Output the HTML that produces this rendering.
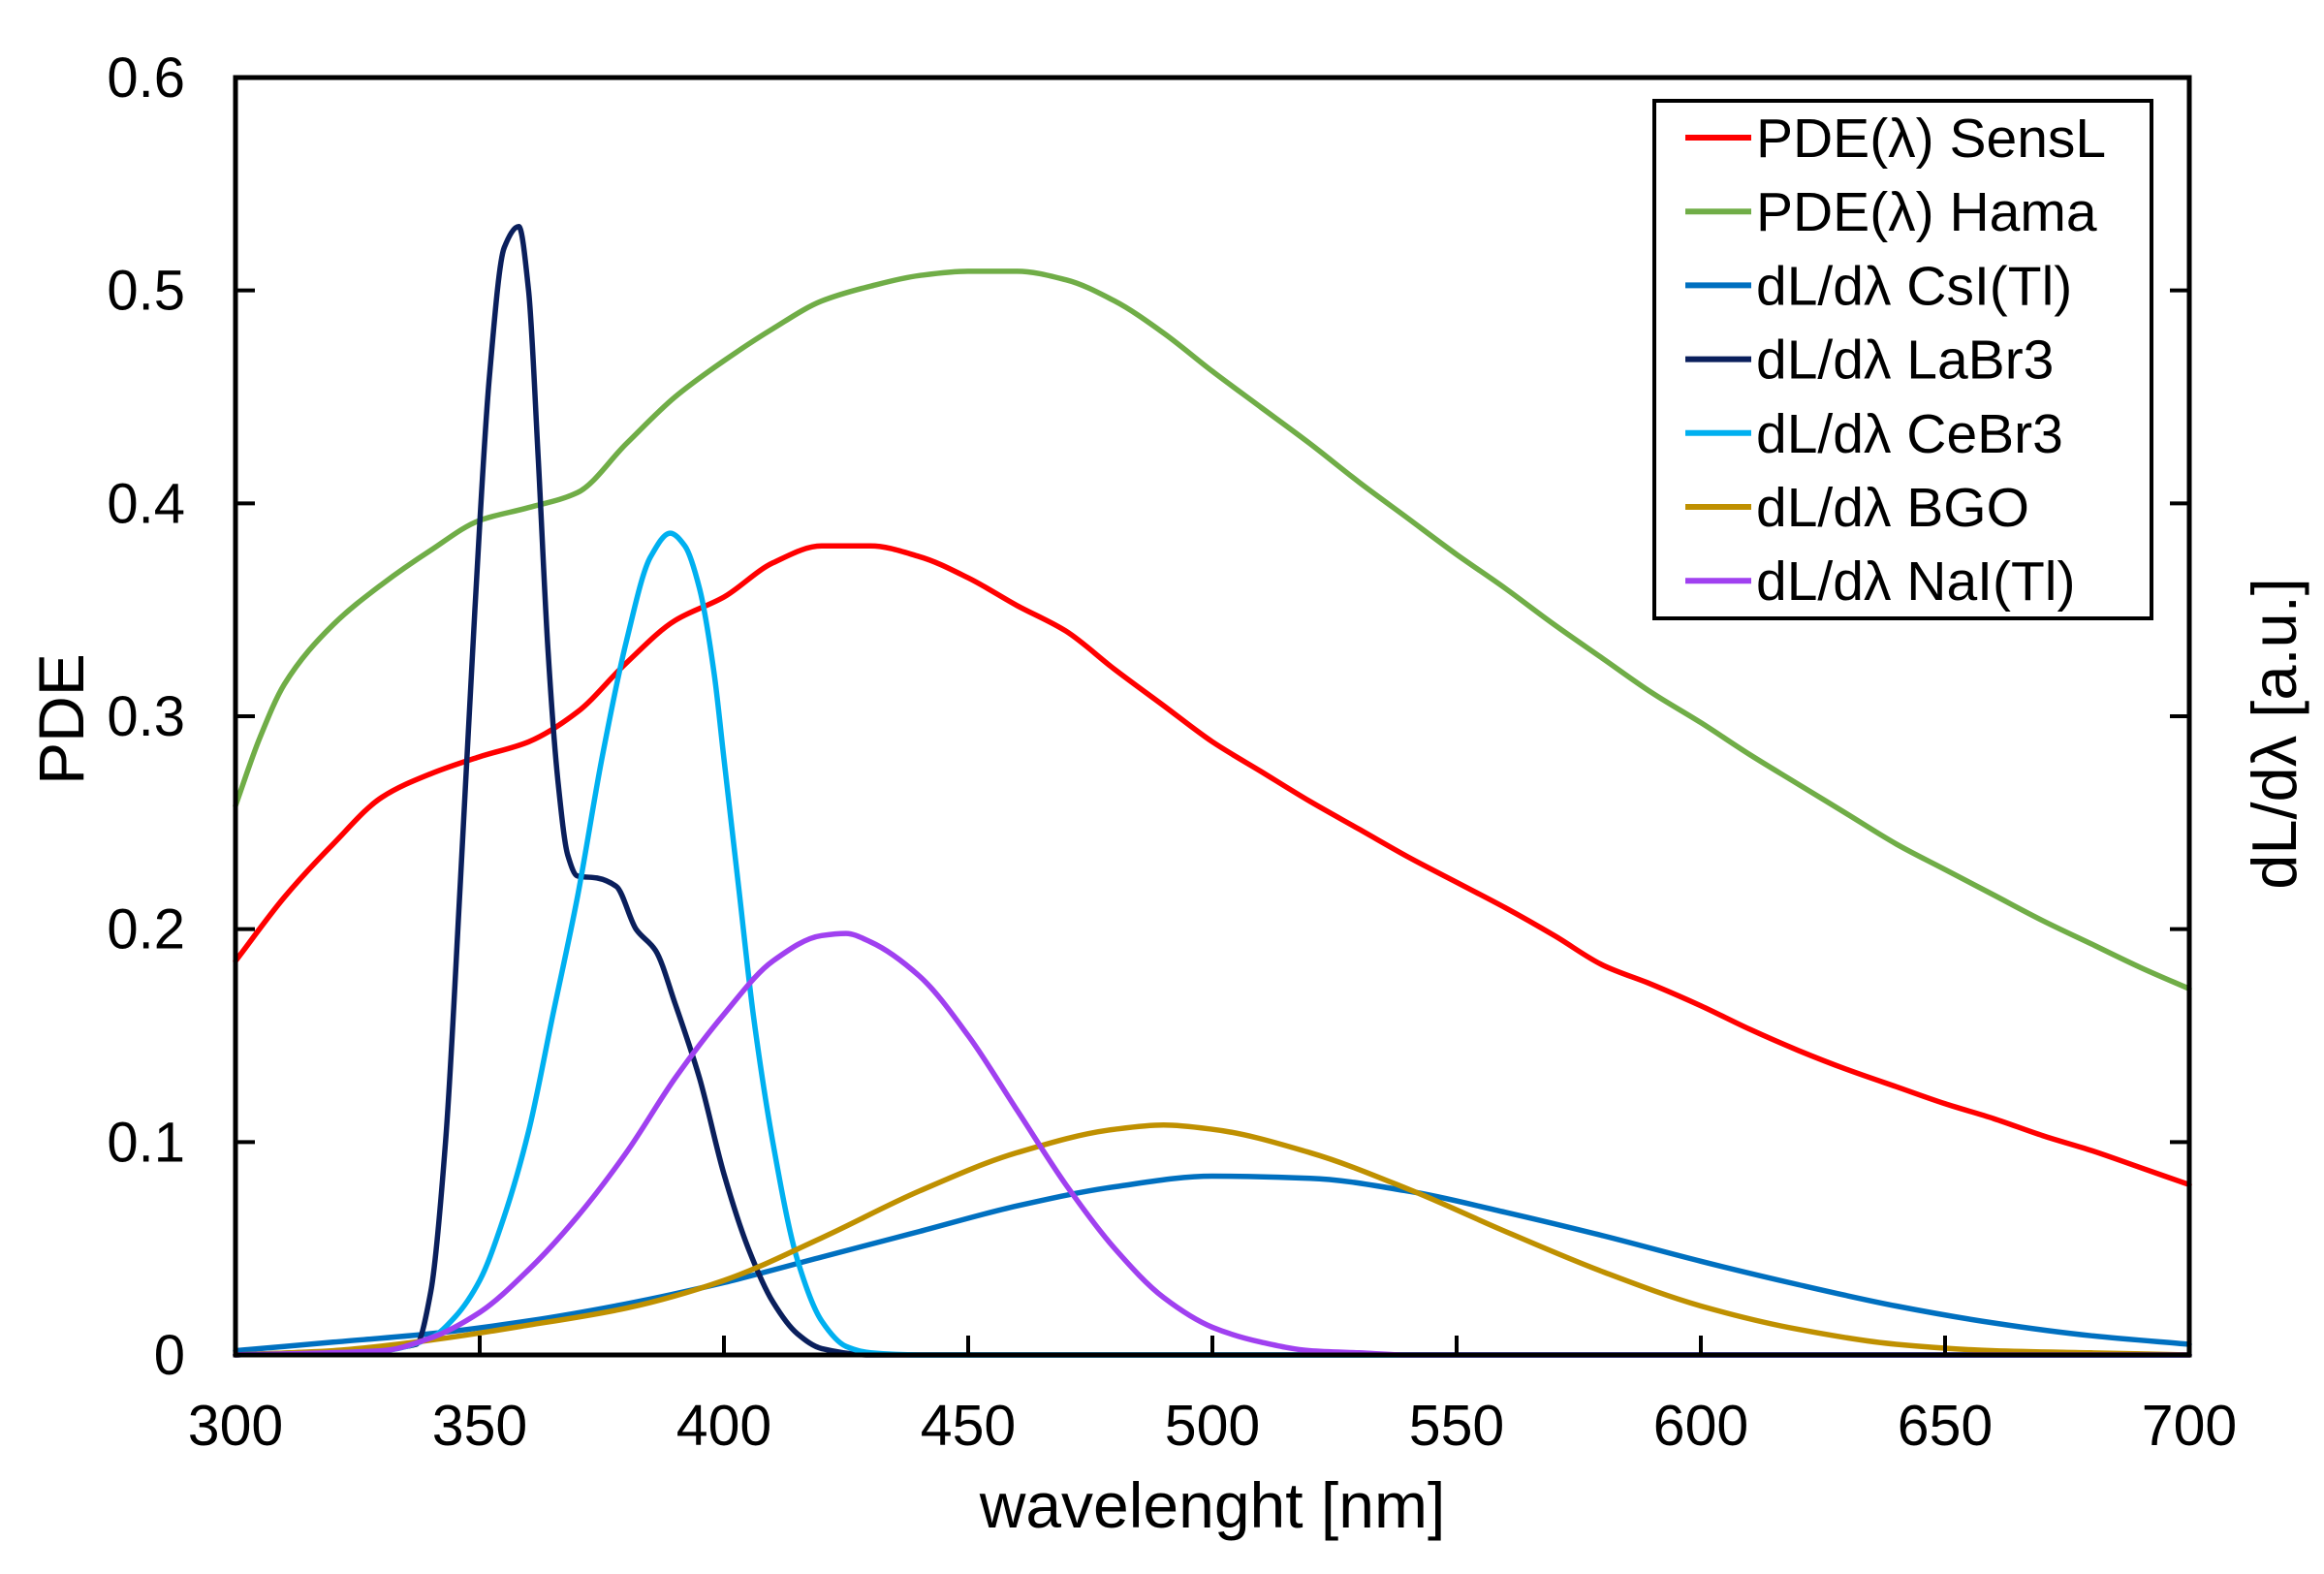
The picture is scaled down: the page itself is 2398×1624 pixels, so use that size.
<!DOCTYPE html>
<html><head><meta charset="utf-8">
<style>
html,body{margin:0;padding:0;background:#fff;}
svg{display:block;font-family:"Liberation Sans",Arial,sans-serif;}
</style></head>
<body>
<svg id="chart" width="2398" height="1624" viewBox="0 0 2398 1624" xmlns="http://www.w3.org/2000/svg"></svg>
<script>
// ---- data ----
const xTicks = [300,350,400,450,500,550,600,650,700];
const yTicks = [0,0.1,0.2,0.3,0.4,0.5,0.6];
const yTickLabels = ["0","0.1","0.2","0.3","0.4","0.5","0.6"];
const seriesNames = ["PDE(λ) SensL","PDE(λ) Hama","dL/dλ CsI(Tl)","dL/dλ LaBr3","dL/dλ CeBr3","dL/dλ BGO","dL/dλ NaI(Tl)"];

const sensL_x = [300,310,320,330,340,350,360,370,380,390,400,410,420,430,440,450,460,470,480,490,500,510,520,530,540,550,560,570,580,590,600,610,620,630,640,650,660,670,680,690,700];
const sensL_y = [0.185,0.215,0.24,0.262,0.273,0.281,0.288,0.302,0.325,0.345,0.356,0.372,0.38,0.38,0.375,0.365,0.352,0.34,0.322,0.305,0.288,0.274,0.26,0.247,0.234,0.222,0.21,0.197,0.183,0.174,0.164,0.153,0.143,0.134,0.126,0.118,0.111,0.103,0.096,0.088,0.08];

const hama_x = [300,305,310,320,330,340,350,360,370,380,390,400,410,420,430,440,450,460,470,480,490,500,510,520,530,540,550,560,570,580,590,600,610,620,630,640,650,660,670,680,690,700];
const hama_y = [0.258,0.29,0.315,0.343,0.362,0.378,0.392,0.398,0.405,0.428,0.45,0.467,0.482,0.495,0.502,0.507,0.509,0.509,0.505,0.495,0.48,0.462,0.445,0.428,0.41,0.393,0.376,0.36,0.343,0.327,0.311,0.297,0.282,0.268,0.254,0.24,0.228,0.216,0.204,0.193,0.182,0.172];

const csi_x = [300,320,340,360,380,400,420,440,460,480,500,520,540,560,580,600,620,640,660,680,700];
const csi_y = [0.002,0.006,0.01,0.016,0.024,0.034,0.046,0.058,0.07,0.079,0.084,0.083,0.077,0.067,0.056,0.044,0.033,0.023,0.015,0.009,0.005];

const labr_x = [300,330,337,340,343,346,349,352,355,358,360,362,364,366,368,370,374,378,382,386,390,395,400,405,410,415,420,430,700];
const labr_y = [0,0.003,0.005,0.03,0.1,0.22,0.35,0.46,0.52,0.53,0.5,0.42,0.33,0.27,0.235,0.225,0.224,0.22,0.2,0.19,0.165,0.13,0.085,0.05,0.025,0.01,0.003,0,0];

const cebr_x = [300,330,340,345,350,355,360,365,370,375,380,385,389,392,395,398,400,403,406,410,415,420,425,430,440,700];
const cebr_y = [0,0.002,0.008,0.018,0.035,0.065,0.105,0.16,0.215,0.28,0.335,0.375,0.386,0.38,0.36,0.32,0.28,0.22,0.16,0.1,0.045,0.016,0.004,0.001,0,0];

const bgo_x = [300,320,340,360,380,400,420,440,460,480,490,500,520,540,560,580,600,620,640,660,680,700];
const bgo_y = [0,0.002,0.007,0.014,0.022,0.035,0.055,0.077,0.095,0.106,0.108,0.106,0.095,0.078,0.058,0.039,0.023,0.012,0.005,0.002,0.001,0];

const nai_x = [300,330,340,350,360,370,380,390,400,410,420,425,430,440,450,460,470,480,490,500,510,520,530,540,700];
const nai_y = [0,0.002,0.008,0.02,0.04,0.065,0.095,0.13,0.16,0.185,0.197,0.198,0.194,0.178,0.15,0.115,0.08,0.05,0.027,0.013,0.006,0.002,0.001,0,0];

// ---- layout ----
const L=243, R=2259, T=80, B=1398;
const xMin=300, xMax=700, yMin=0, yMax=0.6;
function sx(v){return L+(v-xMin)/(xMax-xMin)*(R-L);}
function sy(v){return B-(v-yMin)/(yMax-yMin)*(B-T);}
const NS="http://www.w3.org/2000/svg";
const svg=document.getElementById('chart');
function mk(tag,attrs,parent){const e=document.createElementNS(NS,tag);for(const k in attrs)e.setAttribute(k,attrs[k]);(parent||svg).appendChild(e);return e;}
// monotone cubic path
function smoothPath(P){
  const n=P.length, d=[], m=[];
  for(let i=0;i<n-1;i++) d.push((P[i+1][1]-P[i][1])/(P[i+1][0]-P[i][0]));
  for(let i=0;i<n;i++){
    if(i===0) m.push(d[0]); else if(i===n-1) m.push(d[n-2]);
    else if(d[i-1]*d[i]<=0) m.push(0);
    else { const h0=P[i][0]-P[i-1][0], h1=P[i+1][0]-P[i][0];
      m.push(3*(h0+h1)/((2*h1+h0)/d[i-1]+(h1+2*h0)/d[i])); }
  }
  let s="M"+P[0][0].toFixed(1)+","+P[0][1].toFixed(1);
  for(let i=0;i<n-1;i++){
    const h=(P[i+1][0]-P[i][0])/3;
    s+=" C"+(P[i][0]+h).toFixed(1)+","+(P[i][1]+m[i]*h).toFixed(1)+" "+(P[i+1][0]-h).toFixed(1)+","+(P[i+1][1]-m[i+1]*h).toFixed(1)+" "+P[i+1][0].toFixed(1)+","+P[i+1][1].toFixed(1);
  }
  return s;
}

const seriesList=[
 [sensL_x,sensL_y,"#ff0000","series-pde-sensl"],
 [hama_x,hama_y,"#70ad47","series-pde-hama"],
 [csi_x,csi_y,"#0070c0","series-csi"],
 [labr_x,labr_y,"#0a1f5c","series-labr3"],
 [cebr_x,cebr_y,"#00b0f0","series-cebr3"],
 [bgo_x,bgo_y,"#bf9000","series-bgo"],
 [nai_x,nai_y,"#a040f0","series-nai"]
];
const plotG=mk('g',{});


seriesList.forEach(s=>{
  const P=s[0].map((x,i)=>[sx(x),sy(s[1][i])]);
  const p=mk('path',{d:smoothPath(P),fill:"none",stroke:s[2],"stroke-width":5.5,"stroke-linejoin":"round","stroke-linecap":"round"},plotG);
  
  
});

const frame=mk('rect',{x:L,y:T,width:R-L,height:B-T,fill:"none",stroke:"#000","stroke-width":5});



yTicks.forEach((v,i)=>{
  const y=sy(v);
  const t1=mk('line',{x1:L,x2:L+20,y1:y,y2:y,stroke:"#000","stroke-width":4});
  
  
  const t2=mk('line',{x1:R-20,x2:R,y1:y,y2:y,stroke:"#000","stroke-width":4});
  
  
  const lab=mk('text',{x:L-52,y:y+20,"font-size":58,"text-anchor":"end",fill:"#000"});
  lab.textContent=yTickLabels[i];
  
  
});
xTicks.forEach(v=>{
  const x=sx(v);
  const t=mk('line',{x1:x,x2:x,y1:B,y2:B-20,stroke:"#000","stroke-width":4});
  
  
  const lab=mk('text',{x:x,y:1491,"font-size":59,"text-anchor":"middle",fill:"#000"});
  lab.textContent=String(v);
  
  
});

const xt=mk('text',{x:(L+R)/2,y:1576,"font-size":66,"text-anchor":"middle",fill:"#000"});
xt.textContent="wavelenght [nm]";


const yt=mk('text',{x:0,y:0,"font-size":66,"text-anchor":"middle",fill:"#000",transform:"translate(86,742) rotate(-90)"});
yt.textContent="PDE";


const y2t=mk('text',{x:0,y:0,"font-size":65,"text-anchor":"middle",fill:"#000",transform:"translate(2369,757) rotate(-90)"});
y2t.textContent="dL/dλ [a.u.]";



const lg=mk('g',{});


const lbox=mk('rect',{x:1707,y:104,width:513,height:534,fill:"#fff",stroke:"#000","stroke-width":4},lg);


seriesList.forEach((s,i)=>{
  const cy=142+i*76.2;
  const ln=mk('line',{x1:1739,x2:1807,y1:cy,y2:cy,stroke:s[2],"stroke-width":6},lg);
  
  
  const tx=mk('text',{x:1812,y:cy+20,"font-size":57,fill:"#000"},lg);
  tx.textContent=seriesNames[i];
  
  
});
</script>
</body></html>
